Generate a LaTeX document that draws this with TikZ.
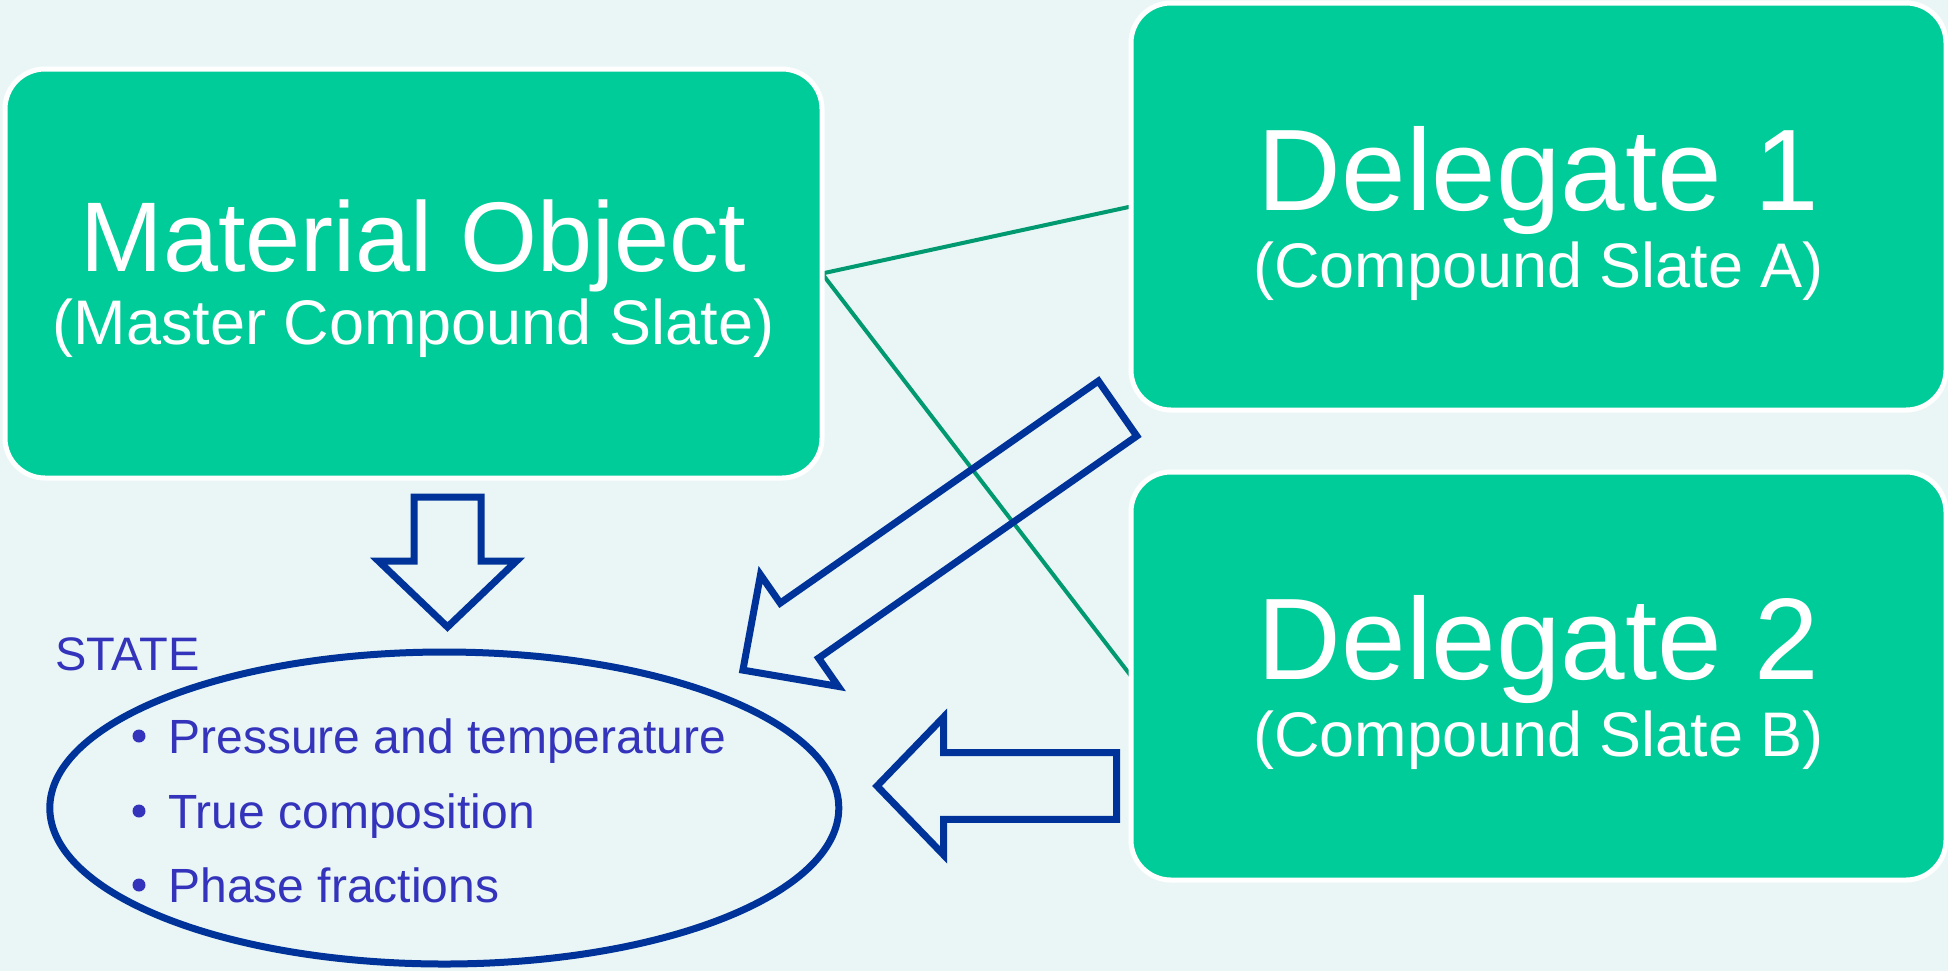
\documentclass[tikz,border=0pt]{standalone}
\usepackage{fontspec}
\setmainfont{Liberation Sans}
\usetikzlibrary{shapes.geometric}
\definecolor{bgc}{RGB}{234,246,246}
\definecolor{boxgreen}{RGB}{0,204,153}
\definecolor{linkgreen}{RGB}{0,153,112}
\definecolor{arrowblue}{RGB}{0,51,153}
\definecolor{txtblue}{RGB}{51,51,187}
\begin{document}
\begin{tikzpicture}[x=0.5pt,y=-0.5pt,
  box/.style={draw=white, line width=2.5pt, fill=boxgreen, rounded corners=20pt, inner sep=0pt, outer sep=0pt},
  titletext/.style={anchor=base, inner sep=0pt, text=white},
  link/.style={draw=linkgreen, line width=2pt},
  blockarrow/.style={draw=arrowblue, line width=3.5pt, miter limit=10},
  itemtext/.style={anchor=base west, inner sep=0pt, text=txtblue, font=\fontsize{24}{26}\selectfont},
  dot/.style={circle, fill=txtblue, minimum size=6.5pt, inner sep=0pt}]
\path[use as bounding box, fill=bgc] (0,0) rectangle (1948,971);

% boxes (positions only, drawn after links)
\path (413.5,273.5) coordinate (moc);
\node[box, minimum width=408.5pt, minimum height=204.5pt, fill=none, draw=none] (mo) at (413.5,273.5) {};
\node[box, minimum width=407.5pt, minimum height=203.5pt, fill=none, draw=none] (d1) at (1538.5,206.5) {};
\node[box, minimum width=407.5pt, minimum height=204pt, fill=none, draw=none] (d2) at (1538.5,676) {};

% green links
\draw[link] (mo.east) -- (d1.west);
\draw[link] (mo.east) -- (d2.west);

% filled boxes
\node[box, minimum width=408.5pt, minimum height=204.5pt] (mobox) at (413.5,273.5) {};
\node[box, minimum width=407.5pt, minimum height=203.5pt] (d1box) at (1538.5,206.5) {};
\node[box, minimum width=407.5pt, minimum height=204pt] (d2box) at (1538.5,676) {};

% box texts
\node[titletext, font=\fontsize{49.5}{52}\selectfont] (motitle) at (413.5,271) {Material Object};
\node[titletext, font=\fontsize{31.5}{34}\selectfont] (mosub) at (413.5,344) {(Master Compound Slate)};
\node[titletext, font=\fontsize{58}{60}\selectfont] (d1title) at (1538.5,210) {Delegate 1};
\node[titletext, font=\fontsize{31.5}{34}\selectfont] (d1sub) at (1538.5,287) {(Compound Slate A)};
\node[titletext, font=\fontsize{58}{60}\selectfont] (d2title) at (1538.5,679) {Delegate 2};
\node[titletext, font=\fontsize{31.5}{34}\selectfont] (d2sub) at (1538.5,756) {(Compound Slate B)};

% state ellipse
\node[draw=arrowblue, line width=3.5pt, ellipse, minimum width=394.5pt, minimum height=156pt, inner sep=0pt] (state) at (444.3,808) {};
\node[anchor=base west, inner sep=0pt, text=txtblue, font=\fontsize{23.5}{25}\selectfont] (statelabel) at (55,670) {STATE};

\node[dot] (dot1) at (139,736) {};
\node[dot] (dot2) at (139,811) {};
\node[dot] (dot3) at (139,885) {};
\node[itemtext] (item1) at (168,753) {Pressure and temperature};
\node[itemtext] (item2) at (168,828) {True composition};
\node[itemtext] (item3) at (168,902) {Phase fractions};

% block arrows
\draw[blockarrow] (414,497) -- (481,497) -- (481,561) -- (516.5,561) -- (447.5,627)
  -- (378.5,561) -- (414,561) -- cycle;
\draw[blockarrow] (1098.4,381.0) -- (780.2,603.1) -- (760.5,574.8) -- (742.9,670.1)
  -- (838.3,686.4) -- (818.6,658.1) -- (1136.8,436.0) -- cycle;
\draw[blockarrow] (1116.7,752.6) -- (943.7,752.6) -- (943.7,717) -- (877,786)
  -- (943.7,855) -- (943.7,819.4) -- (1116.7,819.4) -- cycle;
\end{tikzpicture}
\end{document}
